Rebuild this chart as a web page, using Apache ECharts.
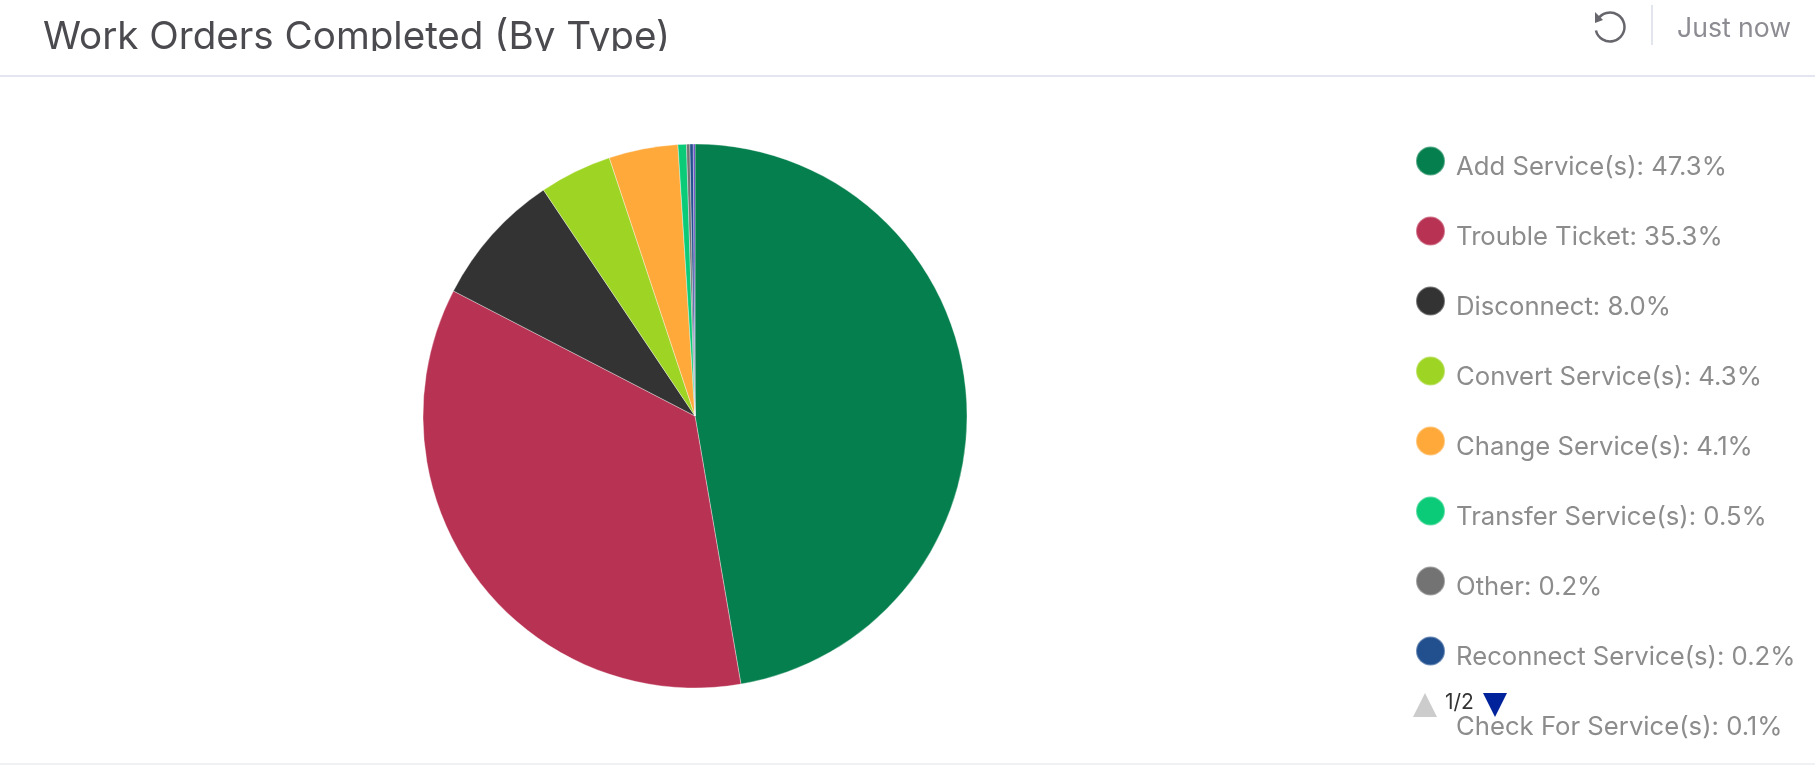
<!DOCTYPE html>
<html><head><meta charset="utf-8">
<style>html,body{margin:0;padding:0;background:#fff}#c{width:1815px;height:765px}</style>
<script src="https://cdn.jsdelivr.net/npm/echarts@6/dist/echarts.min.js"></script>
</head><body><div id="c"></div>
<script>
const categories = ["Add Service(s)","Trouble Ticket","Disconnect","Convert Service(s)","Change Service(s)","Transfer Service(s)","Other","Reconnect Service(s)","Check For Service(s)"];
const values = [47.3,35.3,8.0,4.3,4.1,0.5,0.2,0.2,0.1];
const colors = ["#047f4d","#b83253","#333333","#9ed423","#ffa93b","#0ccb78","#737373","#22508f","#5c35c0"];
const titleText = "Work Orders Completed (By Type)";
const updatedText = "Just now";
const pagerText = "1/2";
const FONT = "Inter, sans-serif";

const chart = echarts.init(document.getElementById('c'), null, {renderer:'canvas'});
chart.setOption({
  animation:false,
  backgroundColor:'#fff',
  color:colors,
  tooltip:{show:false},
  legend:{
    orient:'vertical', left:1415, top:142, padding:0, height:700,
    itemWidth:29, itemHeight:29, itemGap:32, icon:'circle',
    selectedMode:false,
    data:categories.map((n,i)=> i===categories.length-1 ? {name:n,itemStyle:{opacity:0}} : {name:n}),
    formatter:n=>'{a|'+n+': '+values[categories.indexOf(n)].toFixed(1)+'%}',
    textStyle:{rich:{a:{color:'#8c8c8c',fontFamily:FONT,fontSize:25.7,padding:[12,0,0,6],lineHeight:28}}}
  },
  series:[{
    type:'pie', center:[695,416], radius:[0,272], startAngle:90, clockwise:true,
    label:{show:false}, labelLine:{show:false}, emphasis:{disabled:true},
    itemStyle:{borderColor:'rgba(255,255,255,0.35)',borderWidth:1},
    data:categories.map((n,i)=>({name:n,value:values[i]}))
  }],
  graphic:[
    {type:'text',z:10,left:43,top:18,style:{text:titleText,fontFamily:FONT,fontSize:38.6,fill:'#4a4a4f'}},
    {type:'rect',z:11,shape:{x:0,y:51,width:900,height:23},style:{fill:'#fff'}},
    {type:'rect',z:10,shape:{x:0,y:75,width:1815,height:2},style:{fill:'#e3e5f0'}},
    {type:'rect',z:10,shape:{x:0,y:763,width:1815,height:2},style:{fill:'#f0f1f5'}},
    {type:'rect',z:10,shape:{x:1651,y:5,width:2,height:40},style:{fill:'#e3e5ee'}},
    {type:'text',z:10,left:1677,top:15,style:{text:updatedText,fontFamily:FONT,fontSize:26.6,fill:'#8c8c92'}},
    {type:'arc',z:10,shape:{cx:1610,cy:27,r:14.5,startAngle:-2.6,endAngle:2.9,clockwise:true},
      style:{stroke:'#66666c',lineWidth:2.5,fill:null}},
    {type:'polygon',z:10,shape:{points:[[1595,12],[1603,20],[1595,23]]},style:{fill:'#66666c'}},
    {type:'polygon',z:12,shape:{points:[[1425,693],[1437,717],[1413,717]]},style:{fill:'#cccccc'}},
    {type:'text',z:12,left:1445,top:692,style:{text:pagerText,fontFamily:FONT,fontSize:21,fill:'#333'}},
    {type:'polygon',z:12,shape:{points:[[1483,693],[1507,693],[1495,717]]},style:{fill:'#00229a'}}
  ]
});
</script></body></html>
